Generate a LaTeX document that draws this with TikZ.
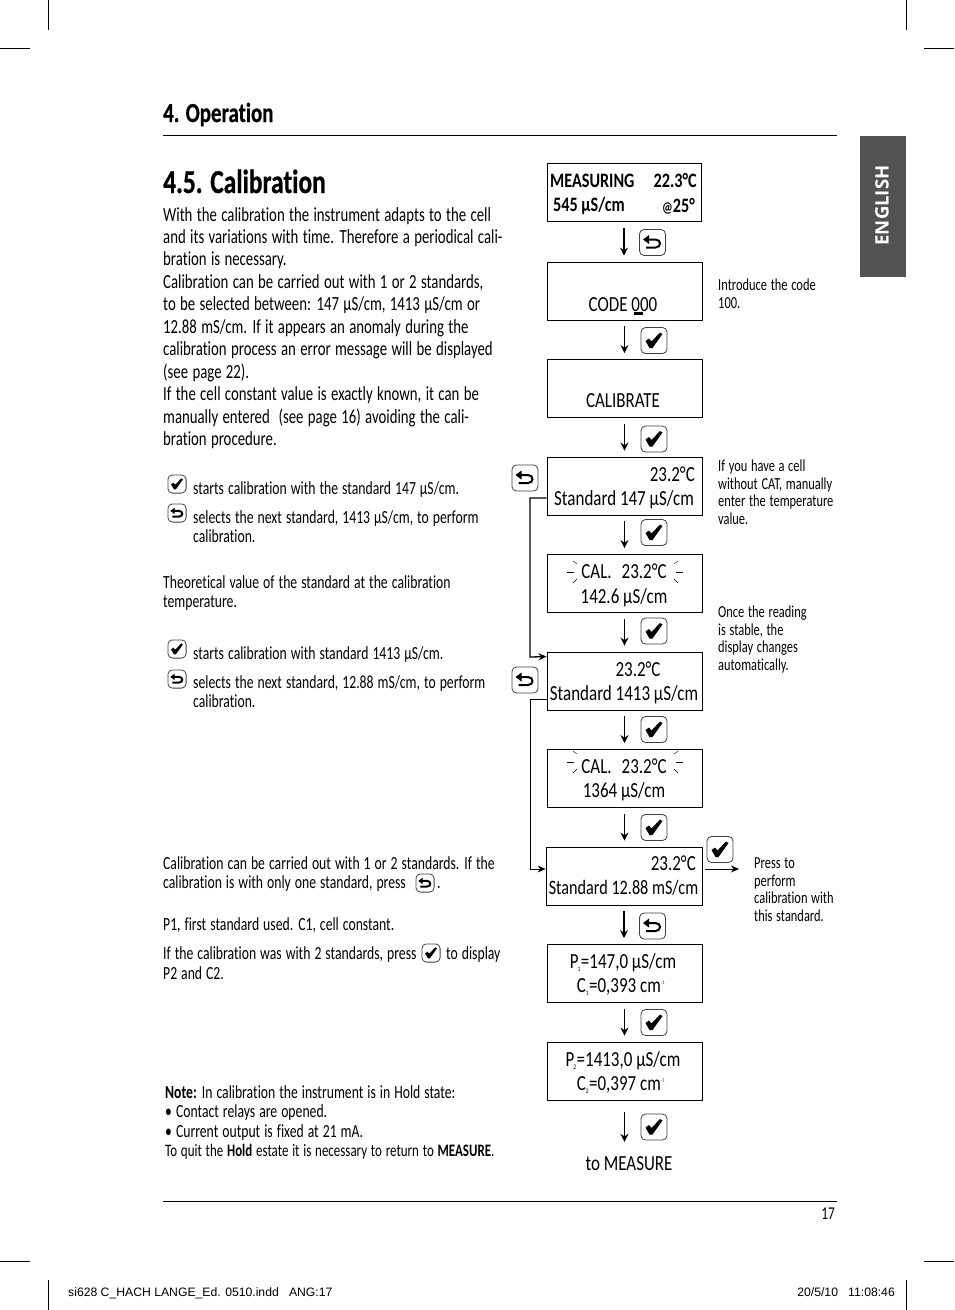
\documentclass[tikz,border=0pt]{standalone}
\usepackage{fontspec}
\setmainfont[FakeStretch=0.74, WordSpace=1.3, Ligatures=NoCommon]{Carlito}
\newfontfamily\lcdfont[FakeStretch=0.79, Ligatures=NoCommon]{Carlito}
\newfontfamily\headfont[FakeStretch=0.76, Ligatures=NoCommon, BoldFeatures={FakeBold=0.6}]{Carlito}
\newfontfamily\printfont{Liberation Sans}
\newfontfamily\tabfont{Open Sans}
\usetikzlibrary{arrows.meta}

\tikzset{
	lcdbox/.style={draw, line width=0.8pt, minimum width=155pt, minimum height=58pt, inner sep=0pt},
	lcdtext/.style={inner sep=0pt, text height=14pt, text depth=4pt, font=\fontsize{21.5}{24}\selectfont\lcdfont},
	lcdbold/.style={lcdtext, font=\fontsize{20.5}{24}\selectfont\lcdfont\bfseries},
	bodytext/.style={anchor=north west, align=left, inner sep=0pt, font=\fontsize{20}{22.45}\selectfont},
	captext/.style={anchor=north west, align=left, inner sep=0pt, font=\fontsize{18.5}{19.6}\selectfont},
	sidetext/.style={anchor=north west, align=left, inner sep=0pt, font=\fontsize{16.8}{17.4}\selectfont},
	flowline/.style={line width=1.4pt, -{Stealth[length=8pt,width=8pt]}},
	keyframe/.style={draw=black!75, line width=0.8pt, rounded corners=4.5pt, fill=white},
	pics/keyok/.style={code={
		\draw[keyframe] (-13,-13) rectangle (13,13);
		\fill (-8.5,0.5) -- (-5,-2) -- (-2.5,1) -- (6,-8) -- (8.5,-6.5) -- (-1.5,7.5) -- (-4.5,7.5) -- cycle;
	}},
	pics/keyback/.style={code={
		\draw[keyframe] (-13,-13) rectangle (13,13);
		\draw[line width=2pt] (-6.5,5) -- (3,5) .. controls (9,5) and (9,-3) .. (3,-3) -- (-5,-3);
		\fill (-9.5,-3) -- (-3.5,-7.5) -- (-3.5,1.5) -- cycle;
	}},
}

\begin{document}
\begin{tikzpicture}[x=1pt, y=-1pt, line cap=butt]
	
	\useasboundingbox (0,0) rectangle (954,1310);
	
	% Crop marks
	\foreach \p/\q in {0/30, 924/954} {
		\draw[line width=0.5pt] (\p,48) -- (\q,48);
		\draw[line width=0.5pt] (\p,1261) -- (\q,1261);
	}
	\foreach \p in {48, 906} {
		\draw[line width=0.5pt] (\p,0) -- (\p,30);
		\draw[line width=0.5pt] (\p,1280) -- (\p,1310);
	}
	
	% Page furniture
	\draw[line width=0.7pt] (163,135.5) -- (837,135.5);
	\draw[line width=0.7pt] (163,1201.5) -- (837,1201.5);
	\fill[black!68] (860,136) rectangle (906,277);
	\node[rotate=90, text=white, inner sep=0pt, font=\fontsize{18.5}{22}\selectfont\tabfont\bfseries] (lang) at (882,205.5) {ENGLISH};
	\node[anchor=base west, inner sep=0pt, font=\fontsize{27.5}{28}\selectfont\headfont\bfseries] (chapter) at (163,122) {4. Operation};
	\node[anchor=base west, inner sep=0pt, font=\fontsize{33.5}{38}\selectfont\headfont\bfseries] (section) at (163,193) {4.5. Calibration};
	\node[inner sep=0pt, font=\fontsize{18}{20}\selectfont] (pageno) at (828,1214) {17};
	\node[anchor=base west, inner sep=0pt, font=\fontsize{12.2}{14}\selectfont\printfont] (slugl) at (68,1296) {si628 C\_HACH LANGE\_Ed. 0510.indd \ \ ANG:17};
	\node[anchor=base east, inner sep=0pt, font=\fontsize{12.2}{14}\selectfont\printfont] (slugr) at (895,1296) {20/5/10 \ \ 11:08:46};
	
	% Left column text
	\node[bodytext] (intro) at (163,207) {With the calibration the instrument adapts to the cell\\
		and its variations with time. Therefore a periodical cali-\\
		bration is necessary.\\
		Calibration can be carried out with 1 or 2 standards,\\
		to be selected between: 147 µS/cm, 1413 µS/cm or\\
		12.88 mS/cm. If it appears an anomaly during the\\
		calibration process an error message will be displayed\\
		(see page 22).\\
		If the cell constant value is exactly known, it can be\\
		manually entered \ (see page 16) avoiding the cali-\\
		bration procedure.};
	\node[captext] (capa) at (193,481) {starts calibration with the standard 147 µS/cm.};
	\node[captext] (capb) at (193,510) {selects the next standard, 1413 µS/cm, to perform\\calibration.};
	\node[captext] (capc) at (163,575) {Theoretical value of the standard at the calibration\\temperature.};
	\node[captext] (capd) at (193,646) {starts calibration with standard 1413 µS/cm.};
	\node[captext] (cape) at (193,675) {selects the next standard, 12.88 mS/cm, to perform\\calibration.};
	\node[captext] (capf) at (163,856) {Calibration can be carried out with 1 or 2 standards. If the\\calibration is with only one standard, press};
	\node[captext, anchor=base west] (capg) at (437,888) {.};
	\node[captext] (caph) at (163,917) {P1, first standard used. C1, cell constant.};
	\node[captext] (capi) at (163,946) {If the calibration was with 2 standards, press};
	\node[captext] (capj) at (446,946) {to display};
	\node[captext] (capk) at (163,966) {P2 and C2.};
	\node[captext] (note) at (165,1085) {\textbf{Note:} In calibration the instrument is in Hold state:\\
		• Contact relays are opened.\\
		• Current output is fixed at 21 mA.\\
		{\fontsize{17.5}{19.6}\selectfont To quit the \textbf{Hold} estate it is necessary to return to \textbf{MEASURE}.}};
	
	% Small keys in the text
	\pic[scale=0.7] at (177,484) {keyok};
	\pic[scale=0.7] at (177,513) {keyback};
	\pic[scale=0.7] at (177,649) {keyok};
	\pic[scale=0.7] at (177,679) {keyback};
	\pic[scale=0.7] at (425,883) {keyback};
	\pic[scale=0.7] at (431,953) {keyok};
	
	% Display boxes
	\node[lcdbox, minimum width=154pt] (box1) at (624,192.5) {};
	\node[lcdbox] (box2) at (624.5,291) {};
	\node[lcdbox] (box3) at (624.5,388.5) {};
	\node[lcdbox] (box4) at (624.5,486) {};
	\node[lcdbox] (box5) at (624.5,583.5) {};
	\node[lcdbox] (box6) at (624.5,681) {};
	\node[lcdbox] (box7) at (624.5,778.5) {};
	\node[lcdbox, minimum width=156pt] (box8) at (624,876) {};
	\node[lcdbox] (box9) at (624.5,973.5) {};
	\node[lcdbox] (box10) at (624.5,1071) {};
	\node[lcdtext] (final) at (629,1165) {to MEASURE};
	
	% Display readings
	\node[lcdbold, anchor=east] (ta) at (697,182) {22.3°C};
	\node[lcdbold, anchor=west] (tb) at (550,182) {MEASURING};
	\node[lcdbold, anchor=west] (tc) at (553,206) {545 µS/cm};
	\node[lcdbold, anchor=east] (td) at (695,207) {{\fontsize{15}{16}\selectfont @}25°};
	\node[lcdtext] (te) at (623,306) {CODE 000};
	\fill (634,311.5) rectangle (643,315);
	\node[lcdtext] (tf) at (623,402) {CALIBRATE};
	\node[lcdtext, anchor=east] (tg) at (695,476) {23.2°C};
	\node[lcdtext] (th) at (624,500) {Standard 147 µS/cm};
	\node[lcdtext] (ti) at (624,573) {CAL.\hspace{10pt}23.2°C};
	\node[lcdtext] (tj) at (624,598) {142.6 µS/cm};
	\node[lcdtext] (tk) at (638,671) {23.2°C};
	\node[lcdtext] (tl) at (624,695) {Standard 1413 µS/cm};
	\node[lcdtext] (tm) at (624,768) {CAL.\hspace{10pt}23.2°C};
	\node[lcdtext] (tn) at (624,792) {1364 µS/cm};
	\node[lcdtext, anchor=east] (to) at (696,865) {23.2°C};
	\node[lcdtext, font=\fontsize{20.5}{24}\selectfont\lcdfont] (tp) at (623.5,889) {Standard 12.88 mS/cm};
	\node[lcdtext] (tq) at (623,963) {P\textsubscript{\kern-1pt\fontsize{7}{7}\selectfont 1}=147,0 µS/cm};
	\node[lcdtext] (tr) at (621,987) {C\textsubscript{\fontsize{7}{7}\selectfont 1}=0,393 cm\textsuperscript{\fontsize{6}{6}\selectfont\color{black!70}-1}};
	\node[lcdtext] (ts) at (623,1061) {P\textsubscript{\kern-1pt\fontsize{7}{7}\selectfont 2}=1413,0 µS/cm};
	\node[lcdtext] (tt) at (621,1085) {C\textsubscript{\fontsize{7}{7}\selectfont 2}=0,397 cm\textsuperscript{\fontsize{6}{6}\selectfont\color{black!70}-1}};
	
	% Blinking marks round the calibrating value
	\foreach \y in {572, 762} {
		\draw[line width=0.4pt] (567,\y) -- (574,\y);
		\draw[line width=0.4pt] (573,\y-11) -- (577,\y-8);
		\draw[line width=0.4pt] (573,\y+11) -- (577,\y+7);
		\draw[line width=0.4pt] (676,\y) -- (683,\y);
		\draw[line width=0.4pt] (678,\y-11) -- (674,\y-8);
		\draw[line width=0.4pt] (678,\y+11) -- (674,\y+7);
	}
	
	% Flow arrows between displays
	\foreach \a/\b in {box1/box2, box2/box3, box3/box4, box4/box5, box5/box6, box6/box7, box7/box8, box8/box9, box9/box10} {
		\draw[flowline, shorten <=6pt, shorten >=6pt] (\a) -- (\a |- \b.north) ;
	}
	\draw[flowline, shorten <=12pt, shorten >=14pt] (box10.south) -- (box10.south |- final.north);
	
	% Keys beside the flow arrows
	\pic at (652.5,242.5) {keyback};
	\pic at (654,340.5) {keyok};
	\pic at (654,439) {keyok};
	\pic at (654,532.5) {keyok};
	\pic at (654,631) {keyok};
	\pic at (654,729.5) {keyok};
	\pic at (654,827.5) {keyok};
	\pic at (652.5,926) {keyback};
	\pic at (654,1022.5) {keyok};
	\pic at (654,1127) {keyok};
	
	% Return paths on the left
	\coordinate (outa) at ([yshift=-12pt]box4.west);
	\coordinate (ina) at ([yshift=-5pt]box6.north west);
	\coordinate (outb) at ([yshift=-18pt]box6.west);
	\coordinate (inb) at ([yshift=7pt]box8.west);
	\draw[line width=1.3pt, -{Stealth[length=8pt,width=7pt]}] (outa) -- (530,498) -- (530,657) -- (ina);
	\draw[line width=0.8pt, -{Stealth[length=8pt,width=7pt]}] (outb) -- (530,699) -- (530,869) -- (inb);
	\pic at (525,478) {keyback};
	\pic at (525,680) {keyback};
	
	% Branch on the last standard
	\coordinate (branch) at (739,869);
	\draw[line width=0.8pt, -{Stealth[length=8pt,width=7pt]}] ([xshift=3pt,yshift=7pt]box8.east) -- (branch);
	\pic at (720,849.5) {keyok};
	
	% Notes on the right
	\node[sidetext] (sidea) at (718,279) {Introduce the code\\100.};
	\node[sidetext] (sideb) at (718,460) {If you have a cell\\without CAT, manually\\enter the temperature\\value.};
	\node[sidetext] (sidec) at (718,606) {Once the reading\\is stable, the\\display changes\\automatically.};
	\node[sidetext] (sided) at (754,858) {Press to\\perform\\calibration with\\this standard.};
	
\end{tikzpicture}
\end{document}
